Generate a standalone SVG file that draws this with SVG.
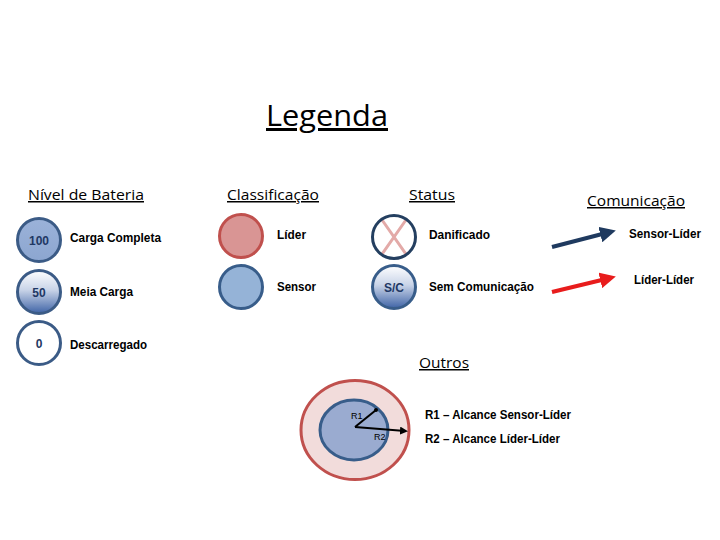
<svg xmlns="http://www.w3.org/2000/svg" width="720" height="540" viewBox="0 0 720 540">
<style>
.h{font-family:"Open Sans","Liberation Sans",sans-serif;font-size:15px;fill:#000;text-decoration:underline}
.l{font-family:"Liberation Sans",sans-serif;font-size:12px;font-weight:bold;fill:#000}
.n{font-family:"Liberation Sans",Arial,sans-serif;font-size:12px;font-weight:bold;fill:#1f3864;text-anchor:middle}
.bs{stroke:#3b5b86;stroke-width:3}
</style>
<defs>
<linearGradient id="g100" x1="0" y1="0" x2="0" y2="1"><stop offset="0" stop-color="#9bb2d9"/><stop offset="1" stop-color="#8ca6d0"/></linearGradient>
<linearGradient id="g50" x1="0" y1="0" x2="0" y2="1"><stop offset="0" stop-color="#ffffff"/><stop offset="0.45" stop-color="#c9d4e8"/><stop offset="1" stop-color="#3e63a6"/></linearGradient>
<clipPath id="cd"><circle cx="394" cy="237" r="21"/></clipPath>
<marker id="ab" markerWidth="4" markerHeight="4" refX="2.5" refY="2" orient="auto" markerUnits="strokeWidth"><path d="M0,0 L4,2 L0,4 z" fill="#1f3a5f"/></marker>
<marker id="ar" markerWidth="4" markerHeight="4" refX="2.5" refY="2" orient="auto" markerUnits="strokeWidth"><path d="M0,0 L4,2 L0,4 z" fill="#e81c1c"/></marker>
<marker id="ak" markerWidth="4" markerHeight="4" refX="2.5" refY="2" orient="auto" markerUnits="strokeWidth"><path d="M0,0 L4,2 L0,4 z" fill="#000"/></marker>
</defs>
<rect width="720" height="540" fill="#fff"/>
<text x="266" y="126" font-family="'Open Sans','Liberation Sans',sans-serif" font-size="30" text-decoration="underline" textLength="122" lengthAdjust="spacingAndGlyphs">Legenda</text>
<text class="h" x="28" y="200" textLength="116" lengthAdjust="spacingAndGlyphs">Nível de Bateria</text>
<text class="h" x="227" y="200" textLength="92" lengthAdjust="spacingAndGlyphs">Classificação</text>
<text class="h" x="409" y="200" textLength="46" lengthAdjust="spacingAndGlyphs">Status</text>
<text class="h" x="587" y="206" textLength="98" lengthAdjust="spacingAndGlyphs">Comunicação</text>
<text class="h" x="419" y="368" textLength="50" lengthAdjust="spacingAndGlyphs">Outros</text>

<g id="bat100"><circle cx="39" cy="240" r="21.5" fill="url(#g100)" class="bs"/><text class="n" x="39" y="245">100</text><text class="l" x="70" y="242" textLength="91" lengthAdjust="spacingAndGlyphs">Carga Completa</text></g>
<g id="bat50"><circle cx="39" cy="292" r="21.5" fill="url(#g50)" class="bs"/><text class="n" x="39" y="297">50</text><text class="l" x="70" y="296" textLength="63" lengthAdjust="spacingAndGlyphs">Meia Carga</text></g>
<g id="bat0"><circle cx="39" cy="343" r="21.5" fill="#fff" class="bs"/><text class="n" x="39" y="348">0</text><text class="l" x="70" y="349" textLength="77" lengthAdjust="spacingAndGlyphs">Descarregado</text></g>

<g id="lider"><circle cx="241" cy="236" r="21.5" fill="#d99594" stroke="#c0504d" stroke-width="3"/><text class="l" x="277" y="239" textLength="29" lengthAdjust="spacingAndGlyphs">Líder</text></g>
<g id="sensor"><circle cx="241" cy="287" r="21.5" fill="#95b3d7" stroke="#385d8a" stroke-width="3"/><text class="l" x="277" y="291" textLength="39" lengthAdjust="spacingAndGlyphs">Sensor</text></g>

<g id="danificado"><circle cx="394" cy="237" r="21.5" fill="#fff"/><path d="M380,217 L408,257 M408,217 L380,257" stroke="#e3aaa8" stroke-width="3" clip-path="url(#cd)"/><circle cx="394" cy="237" r="21.5" fill="none" stroke="#243f60" stroke-width="3"/><text class="l" x="429" y="239" textLength="61" lengthAdjust="spacingAndGlyphs">Danificado</text></g>
<g id="semcom"><circle cx="394" cy="287" r="21.5" fill="url(#g50)" stroke="#385d8a" stroke-width="3"/><text class="n" x="394" y="292" font-size="13">S/C</text><text class="l" x="429" y="291" textLength="105" lengthAdjust="spacingAndGlyphs">Sem Comunicação</text></g>

<g id="connectors">
<line x1="552" y1="247" x2="610" y2="232" stroke="#1f3a5f" stroke-width="4" marker-end="url(#ab)"/>
<line x1="552" y1="292" x2="610" y2="278" stroke="#e81c1c" stroke-width="4" marker-end="url(#ar)"/>
</g>
<text class="l" x="629" y="238" textLength="72" lengthAdjust="spacingAndGlyphs">Sensor-Líder</text>
<text class="l" x="634" y="284" textLength="60" lengthAdjust="spacingAndGlyphs">Líder-Líder</text>

<g id="outros">
<ellipse cx="355" cy="430" rx="54" ry="49.5" fill="#f2dcdb" stroke="#c0504d" stroke-width="3"/>
<ellipse cx="354" cy="430" rx="34" ry="30" fill="#9aabd0" stroke="#385d8a" stroke-width="3"/>
<line x1="355" y1="427" x2="376" y2="410" stroke="#000" stroke-width="2"/>
<circle cx="376" cy="410" r="2" fill="#000"/>
<line x1="355" y1="427" x2="405" y2="431" stroke="#000" stroke-width="2" marker-end="url(#ak)"/>
<text x="351" y="419" font-family="'Liberation Sans',sans-serif" font-size="9" fill="#000">R1</text>
<text x="374" y="440" font-family="'Liberation Sans',sans-serif" font-size="9" fill="#000">R2</text>
</g>
<text class="l" x="425" y="419" textLength="146" lengthAdjust="spacingAndGlyphs">R1 – Alcance Sensor-Líder</text>
<text class="l" x="425" y="443" textLength="135" lengthAdjust="spacingAndGlyphs">R2 – Alcance Líder-Líder</text>
</svg>
